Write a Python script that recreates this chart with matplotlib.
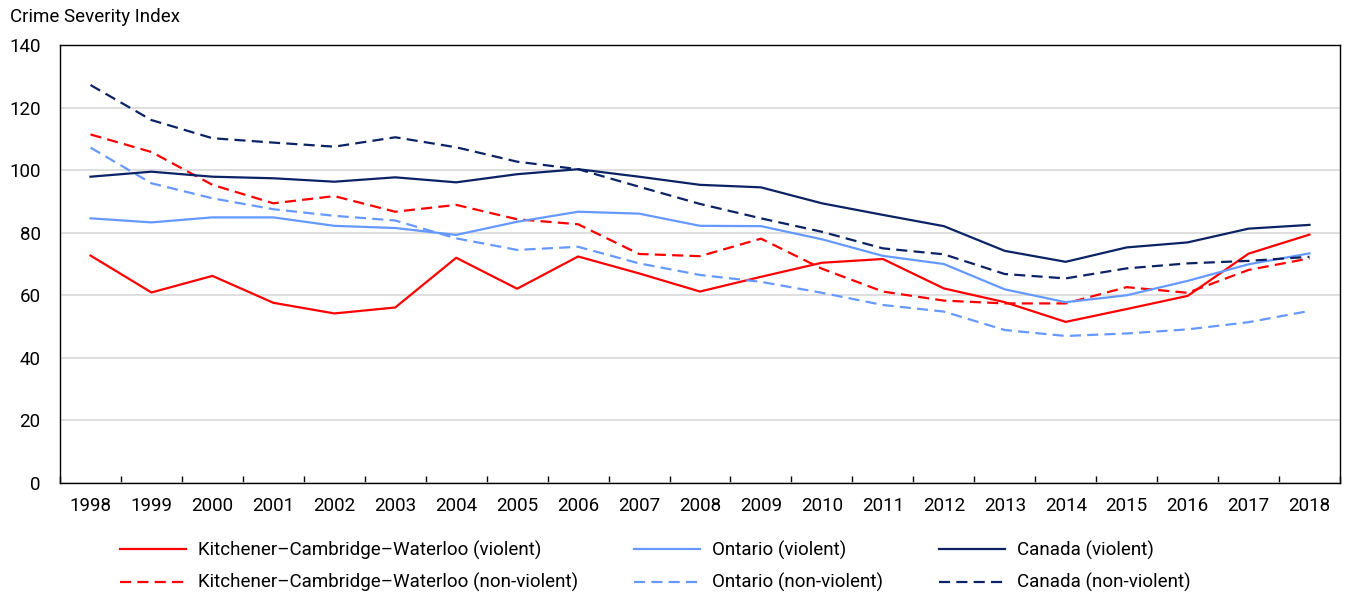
import matplotlib
matplotlib.use("Agg")
from matplotlib import pyplot as plt
from matplotlib.ticker import FixedLocator, MultipleLocator
import numpy as np

plt.rcParams['font.family'] = ['Roboto', 'DejaVu Sans']

years = [str(y) for y in range(1998, 2019)]

kcw_violent = [72.7, 60.9, 66.2, 57.6, 54.2, 56.1, 72.0, 62.1, 72.4, 67.0, 61.2,
               65.9, 70.4, 71.6, 62.2, 57.8, 51.5, 55.6, 59.8, 73.3, 79.4]
kcw_nonviolent = [111.4, 105.8, 95.3, 89.4, 91.7, 86.7, 88.9, 84.3, 82.7, 73.2, 72.5,
                  78.1, 68.5, 61.2, 58.3, 57.4, 57.4, 62.6, 60.8, 68.1, 71.8]
ont_violent = [84.6, 83.3, 84.9, 84.9, 82.2, 81.5, 79.3, 83.5, 86.7, 86.1, 82.2,
               82.1, 77.9, 72.6, 70.0, 61.9, 57.8, 60.0, 64.6, 69.9, 73.4]
ont_nonviolent = [107.2, 95.8, 91.0, 87.5, 85.4, 83.9, 78.2, 74.5, 75.5, 70.2, 66.5,
                  64.3, 60.8, 56.9, 54.8, 48.9, 47.0, 47.8, 49.1, 51.4, 55.0]
can_violent = [97.9, 99.5, 97.9, 97.4, 96.3, 97.7, 96.1, 98.7, 100.3, 97.9, 95.3,
               94.5, 89.4, 85.7, 82.1, 74.2, 70.7, 75.3, 76.9, 81.3, 82.5]
can_nonviolent = [127.2, 116.0, 110.2, 108.8, 107.5, 110.5, 107.3, 102.7, 100.3, 94.7, 89.2,
                  84.6, 80.3, 75.0, 73.1, 66.8, 65.4, 68.6, 70.2, 71.0, 72.3]

RED = '#FF0000'
LIGHT = '#6699FF'
NAVY = '#0B2265'
DASH = (0, (5, 2.8))

fig = plt.figure(figsize=(13.49, 5.95), dpi=100)
ax = fig.add_axes([0.0445, 0.1882, 0.9488, 0.7362])

x = np.arange(len(years))
lw = 1.6
h1, = ax.plot(x, kcw_violent, color=RED, lw=lw, label='Kitchener\u2013Cambridge\u2013Waterloo (violent)')
h2, = ax.plot(x, kcw_nonviolent, color=RED, lw=lw, ls=DASH, label='Kitchener\u2013Cambridge\u2013Waterloo (non-violent)')
h3, = ax.plot(x, ont_violent, color=LIGHT, lw=lw, label='Ontario (violent)')
h4, = ax.plot(x, ont_nonviolent, color=LIGHT, lw=lw, ls=DASH, label='Ontario (non-violent)')
h5, = ax.plot(x, can_violent, color=NAVY, lw=lw, label='Canada (violent)')
h6, = ax.plot(x, can_nonviolent, color=NAVY, lw=lw, ls=DASH, label='Canada (non-violent)')

ax.set_xlim(-0.5, len(years) - 0.5)
ax.set_ylim(0, 140)
ax.yaxis.set_major_locator(MultipleLocator(20))
ax.grid(axis='y', color='#D9D9D9', lw=1.2)
ax.set_axisbelow(True)

ax.set_xticks(x)
ax.set_xticklabels(years)
ax.xaxis.set_minor_locator(FixedLocator(np.arange(-0.5, len(years), 1.0)))
ax.tick_params(axis='x', which='major', length=0, pad=10, labelsize=13.5)
ax.tick_params(axis='x', which='minor', direction='in', length=5, width=1)
ax.tick_params(axis='y', length=0, pad=14, labelsize=13.5)

for s in ax.spines.values():
    s.set_color('black')
    s.set_linewidth(1)

fig.text(0.0075, 0.972, 'Crime Severity Index', fontsize=13.5, va='center', ha='left')

fig.legend(handles=[h1, h2, h3, h4, h5, h6], ncol=3, loc='upper left',
           bbox_to_anchor=(0.089, 0.0915), frameon=False, fontsize=13.5,
           borderaxespad=0, borderpad=0,
           handlelength=3.5, handletextpad=0.65, columnspacing=3.0,
           labelspacing=0.72)

fig.savefig('out.png', dpi=100)
